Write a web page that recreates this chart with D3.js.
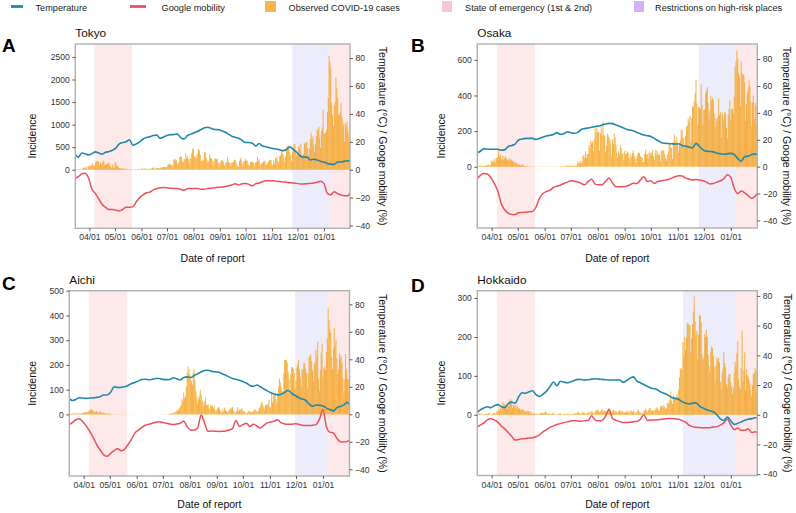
<!DOCTYPE html>
<html><head><meta charset="utf-8">
<script src="https://cdn.jsdelivr.net/npm/d3@7"></script>
<style>
body{margin:0;background:#fff}
svg{display:block}
text{font-family:"Liberation Sans",Arial,Helvetica,sans-serif}
</style>
</head><body>
<svg id="chart" width="796" height="513"></svg>
<script>
// ---------- DATA ----------
const regions = ["Tokyo","Osaka","Aichi","Hokkaido"];
const panelLetters = ["A","B","C","D"];
const firstDay = "2020-03-16"; // daily cases start here, one value per day to 2021-01-31
const monthTickDates = ["2020-04-01","2020-05-01","2020-06-01","2020-07-01","2020-08-01","2020-09-01","2020-10-01","2020-11-01","2020-12-01","2021-01-01"];
const monthTickLabels = ["04/01","05/01","06/01","07/01","08/01","09/01","10/01","11/01","12/01","01/01"];
const emergency1 = ["2020-04-07","2020-05-21"];
const emergency2Start = "2021-01-07";
const restrictStart = ["2020-11-25","2020-11-25","2020-11-30","2020-11-07"];
const leftTicks = [[0,500,1000,1500,2000,2500],[0,200,400,600],[0,100,200,300,400,500],[0,100,200,300]];
const rightTicks = [-40,-20,0,20,40,60,80];

const tokyoCases = [2,5,9,2,11,7,3,16,17,41,47,40,63,68,13,78,
66,97,89,116,143,83,79,144,178,189,197,166,91,161,127,149,201,181,107,102,123,132,134,161,103,72,39,112,47,46,
165,160,91,87,58,38,23,39,36,22,15,28,10,30,9,14,5,10,5,5,11,3,2,14,8,10,11,15,22,14,5,
13,34,12,28,20,26,14,13,12,18,22,25,24,47,48,27,16,41,35,39,35,29,31,55,48,54,57,60,58,54,
67,107,124,131,111,102,106,75,224,243,206,206,119,143,165,286,293,290,188,168,237,238,366,260,295,239,131,266,250,367,463,
472,292,258,309,263,360,462,429,331,197,188,222,206,389,385,260,161,207,186,339,258,256,212,95,182,236,250,226,247,148,100,
170,141,210,211,181,116,77,170,149,276,187,146,146,80,163,163,173,220,218,162,98,88,59,195,270,218,144,78,191,194,
235,196,207,143,78,100,178,172,187,150,145,77,166,177,284,184,235,132,78,139,150,185,186,203,124,102,158,171,221,221,215,
116,87,209,122,269,242,294,189,157,293,317,393,374,352,255,180,298,493,534,522,539,391,314,186,401,481,570,561,418,311,
372,500,533,449,584,327,299,352,572,602,595,621,480,305,460,678,822,664,736,556,392,563,748,888,884,949,708,481,856,944,1337,
783,814,816,884,1278,1591,2520,2392,2268,1494,1219,970,1433,1502,2044,1809,1592,1204,1240,1274,1471,1175,1070,986,618,1026,973,1064,868,769,633];

const osakaCases = [2,5,3,6,7,4,5,8,4,7,9,10,14,4,11,10,
34,28,28,41,24,47,48,56,92,55,70,43,40,60,38,50,60,44,40,35,49,35,42,38,31,29,17,30,21,17,
17,13,11,8,6,13,12,7,3,2,5,3,2,2,1,2,0,1,2,1,1,0,1,0,1,0,1,0,1,2,0,
1,0,1,0,2,1,0,0,1,0,1,2,0,1,3,1,0,2,1,3,4,0,2,4,3,5,6,4,7,5,
3,6,5,5,8,4,4,10,30,18,20,32,18,30,61,66,49,86,51,72,72,121,104,149,132,141,85,155,221,190,216,
195,194,88,188,225,175,255,179,172,80,117,187,177,165,148,125,58,154,129,187,165,123,78,51,87,70,121,104,67,76,39,
89,73,73,86,78,51,36,74,57,77,90,63,45,24,53,74,82,76,61,54,50,28,26,70,95,70,70,46,78,85,
66,77,93,59,39,76,95,68,85,66,69,31,88,93,92,89,70,49,34,66,82,128,128,108,104,43,139,180,151,138,167,
130,79,127,149,207,206,161,164,114,174,226,231,269,254,286,142,273,338,338,370,415,490,356,233,335,331,323,463,346,236,
318,322,410,427,447,359,271,318,396,371,386,373,299,221,271,254,278,383,290,308,166,301,289,260,307,299,220,160,290,323,373,
262,323,326,301,394,560,592,654,606,525,508,340,592,524,519,516,475,258,352,412,439,485,453,362,226,360,400,269,358,343,234];

const aichiCases = [1,3,2,4,5,2,3,5,3,6,2,4,5,3,4,6,
8,6,10,9,7,12,15,10,18,20,16,14,12,9,11,14,8,6,10,12,9,8,7,6,5,4,3,2,4,2,
3,2,1,2,1,0,1,0,1,0,2,0,1,0,0,1,0,0,1,0,0,0,1,0,0,1,0,0,0,1,0,
0,0,1,0,0,0,0,0,1,0,0,0,0,0,0,0,1,0,0,0,0,0,0,1,0,0,0,0,1,0,
1,0,0,2,0,1,0,3,2,4,5,3,6,8,7,10,16,14,19,24,33,37,62,55,89,64,74,112,167,193,181,
163,141,133,120,170,181,136,93,72,45,63,74,101,82,58,51,35,52,69,39,37,43,26,18,40,32,36,24,33,20,10,
18,24,30,25,17,9,10,23,11,28,19,13,11,8,19,18,27,22,30,18,8,6,10,15,29,12,21,17,23,24,
12,14,13,3,4,7,12,15,14,10,8,11,13,19,21,15,13,9,16,26,33,45,51,39,29,20,40,37,39,44,58,
32,28,84,48,73,82,88,61,44,86,113,145,129,110,95,76,167,219,221,220,210,172,140,86,164,190,192,183,167,101,
135,190,203,221,182,152,116,181,180,207,208,185,168,104,164,231,236,242,214,179,133,205,213,260,238,295,146,94,181,249,285,
149,185,194,178,252,307,431,380,345,329,232,183,267,349,280,302,225,163,183,246,225,237,207,147,86,142,244,184,145,141,91];

const hokkaidoCases = [3,1,4,2,1,3,2,1,1,2,3,2,5,4,1,2,
2,2,5,5,2,4,9,9,14,10,18,14,21,32,26,27,23,15,19,22,26,36,40,31,18,27,23,19,26,18,
22,14,17,13,14,11,15,12,7,9,6,10,10,8,6,6,4,2,3,5,1,2,3,3,1,2,5,4,6,5,3,
6,8,5,3,2,4,3,1,2,3,5,2,1,0,2,1,3,2,4,1,0,2,1,3,2,1,4,2,3,1,
2,0,3,1,4,2,5,3,6,8,4,2,3,5,7,6,4,3,2,5,6,8,4,6,9,7,4,3,8,10,12,
14,9,6,8,12,15,10,7,11,9,5,10,14,18,12,8,6,9,13,11,7,10,8,5,9,12,10,6,11,8,6,
5,7,9,6,10,8,4,12,9,7,11,6,5,3,8,10,14,7,5,6,4,3,9,12,15,10,6,12,16,18,
14,10,12,8,11,13,16,19,15,12,9,20,24,22,18,25,20,14,17,30,28,34,40,60,37,28,50,43,47,44,54,
46,64,96,119,119,115,187,153,200,166,197,236,235,230,230,160,197,233,266,304,241,207,216,141,206,257,254,237,155,141,
146,207,200,218,200,154,126,111,163,175,172,152,124,83,127,147,139,146,135,85,67,108,119,161,133,122,79,71,97,104,105,
84,73,53,68,107,137,125,158,190,92,73,66,120,215,87,116,160,63,116,102,98,90,80,63,47,76,105,107,120,113,59];

// day offsets (from 2020-03-16) at which temperature / mobility were read
const lineDays = [0,3,7,11,15,19,23,27,31,35,39,43,47,51,55,59,63,67,71,75,79,83,87,91,95,99,103,107,111,115,119,123,127,131,135,139,143,147,151,155,159,163,167,171,175,179,183,187,191,195,199,203,207,211,215,219,223,227,231,235,239,243,247,251,255,259,263,267,271,275,279,283,287,291,295,299,303,307,311,315,319,321];

const tokyoTemp = [10.5,9,12,11.5,10.5,11.5,12.8,12,11.2,12.5,
13,14,15.5,18.5,19.5,20,21.5,17.5,18.5,20,
22,23,23.7,24.5,24.8,22.5,23.5,24.5,25,25.2,
25.6,23,22,24.5,25.5,26.5,27.5,28.8,30,30.4,
29.5,28.8,28.6,28,27,25.5,24,23.2,22.5,21,
19.5,19.5,19,17,18.8,17,16.5,15.8,15.2,14.8,
14.3,13.6,14.5,16.5,14.5,12.5,10,9,9,7,
7.5,7,6,5.5,4.5,4,3.8,5.5,5.5,6,
6.5,6];
const tokyoMob = [-6,-5,-3,-2.5,-6,-14,-17,-21,-25,-27,
-28.5,-28.5,-29,-29.5,-28.5,-27,-27,-26.5,-23,-20,
-18,-16.5,-16,-14.5,-13.5,-13,-12.7,-13,-13.3,-13.5,
-13.5,-14,-14.8,-13.5,-13.5,-13.5,-13.5,-14,-14,-13.5,
-13.3,-13,-12.5,-12.5,-12,-11.5,-11,-10,-11,-10,
-9.8,-10.5,-11.7,-10,-9.5,-8.6,-8,-8,-8,-8.3,
-8.5,-8.8,-9,-9.3,-9.5,-9.8,-10.2,-10.2,-10,-9.8,
-9.5,-9,-8.2,-10,-17,-18,-15.8,-17.2,-18.2,-18.6,
-18.6,-17];
const osakaTemp = [10.4,11.5,13.2,13,12.9,12.9,12.9,12.3,12.5,15,
15.8,16.8,19.8,20.5,21,21,21,20.3,21.2,22,
22.8,23.3,24,25.3,24,24.5,26,25.2,24.8,25.5,
27.6,28.3,28.8,29.3,29.8,30.2,31,31.7,32.2,32,
31,30,29,27.8,27.2,26.6,25.5,24.5,23.5,23,
22.5,21,19.5,18,17.4,17.2,17,16.8,17,15.8,
15.3,14.5,14,17.3,15,12.5,11.5,11.3,11,10,
9.6,9.2,9.5,9.9,9,6,4,7.5,7.8,9,
9.5,8.8];
const osakaMob = [-8.7,-6.5,-5,-5.5,-8,-12.4,-18,-27.5,-32,-34.5,
-35.5,-35.5,-34.2,-34,-33.8,-33.6,-33.4,-30,-23.5,-20,
-18.5,-17.5,-15.5,-14.5,-13.8,-12.5,-11.5,-10.5,-10.8,-11.4,
-12.5,-13.5,-11,-9.4,-13,-13.5,-13.6,-11,-8.5,-12,
-15,-15,-14.8,-14.5,-13.5,-12.4,-12.6,-10,-7.5,-11,
-10.5,-12.5,-11,-10.5,-10,-9.5,-8.5,-7.5,-6.8,-7,
-8.5,-9.2,-10,-9.5,-10,-10.5,-11.5,-12.8,-12.5,-11.5,
-10.5,-9,-6,-8,-16,-20,-18,-19.5,-21.5,-23.5,
-22,-20];
const aichiTemp = [11.2,10,10.8,12,11.8,11.6,11.8,11.9,12.3,12.8,
14,14,16,20,19.5,19.6,20,21,22.4,23.2,
24.3,25.3,25.5,25.1,25.5,26,26,25.4,25.2,25.3,
26.6,25.8,25,26.8,27.2,26.8,28.2,29.5,30.7,31.8,
32,31.3,30.9,30.5,29.5,28.5,27.2,26,25.5,24.8,
23.8,22.7,21,20.4,21.3,20,18.5,17,15.7,14.8,
14.1,14.4,16,17.3,15.3,13.7,12.1,11.2,10.2,7.5,
5.8,6.7,6.6,6,4.5,3.4,2.5,4.8,5.7,6.8,
8.8,7.3];
const aichiMob = [-7.3,-6,-4,-3.2,-5.5,-8.5,-12.5,-17,-22,-26,
-29.5,-30.5,-28.4,-26.5,-25,-26.5,-25.5,-22,-18,-13.5,
-11.5,-9.5,-8,-7.3,-6.5,-5.8,-5.5,-6,-6.5,-7,
-7.5,-7,-6.5,-5,-9,-11.4,-11.4,-10,-0.5,-6.5,
-12.4,-12.2,-12.3,-12.5,-12.4,-12.1,-11.5,-10.5,-4.5,-8.8,
-7.5,-6.5,-8.8,-7.3,-8.5,-10,-8,-6.3,-5.6,-5,
-4,-6.3,-7,-7.2,-7.2,-6.8,-7.3,-8,-8.2,-8.2,
-8,-7.5,-3.5,3.5,-9,-13,-13.5,-17.5,-20,-20.2,
-19.7,-18.7];
const hokkaidoTemp = [2,3.3,4.5,5.4,4.8,6,6.8,5.5,4.8,7.5,
8.5,7.8,12,14.8,14.5,15.5,16.2,13.5,12.3,13.8,
15.8,18.8,22,19.5,22.5,22,21.5,22.2,23,23.8,
23.7,23.3,23.6,24,24.2,24,23.8,23.6,23.4,23.4,
23.4,23.4,21.8,23,24.5,25.5,22.7,21.5,20.3,19.1,
18,17.5,16.7,15.2,14.3,13.2,11.6,11,10.4,8.8,
7.8,7.2,7.8,8,5.8,4.5,3.4,2.7,2,0,
-2.8,-3.9,-1.5,-4,-6.5,-5.8,-4.8,-3.7,-3,-2.6,
-2,-1.8];
const hokkaidoMob = [-8,-7,-5.5,-3.5,-2.7,-3.5,-5,-7.5,-9.5,-12,
-14.5,-17,-16.6,-16.2,-16,-15.7,-15.5,-14.8,-13.5,-11.5,
-10,-8.5,-7.5,-6.6,-6,-5.2,-4.8,-4.2,-4,-4.2,
-4.3,-4,-3.8,-0.7,-3.6,-4,-3.8,-1,3.5,-2.5,
-3.8,-4.5,-5.2,-5.2,-5,-4.7,-4.5,-3,0,-3.8,
-3.6,-3.5,-3.3,-3,-2.8,-2.6,-2.6,-2.8,-3,-4,
-5,-7,-8,-8.4,-8.6,-8.8,-8.8,-8.7,-8.3,-8,
-7,-5.5,-2.8,-7,-10,-9,-10.5,-10.5,-9.5,-12,
-11.5,-12];

const legendLabels = ["Temperature","Google mobility","Observed COVID-19 cases","State of emergency (1st & 2nd)","Restrictions on high-risk places"];

// ---------- STYLE / LAYOUT ----------
const C = {temp:"#1f88ab", mob:"#ee5059", bar:"#f5a21f", em:"#fde9e9", res:"#ececfb",
  emLeg:"#f9c5d2", resLeg:"#d3b2f6", frame:"#b0b0b0", tick:"#333", lab:"#333"};
const layout = [
  {x0:75.3, x1:350,   y0:44,    y1:228.3, lDom:[-1299,2787], rDom:[-42.0,90.1], letterX:2,   letterY:52,  titleY:37,    xTitleY:262, yTitleX:32,  rTitleX:383},
  {x0:477.3,x1:757.3, y0:44,    y1:228,   lDom:[-344,689],   rDom:[-45.6,91.2], letterX:411, letterY:52,  titleY:37,    xTitleY:262, yTitleX:441, rTitleX:787},
  {x0:69.3, x1:349.5, y0:290.7, y1:476,   lDom:[-249,500],   rDom:[-44.9,89.9], letterX:2,   letterY:290, titleY:283.5, xTitleY:508, yTitleX:32,  rTitleX:383},
  {x0:477.3,x1:757.3, y0:290.7, y1:475.5, lDom:[-156,318.8], rDom:[-40.9,83.5], letterX:411, letterY:292, titleY:283.5, xTitleY:508, yTitleX:441, rTitleX:788}
];
const casesAll = [tokyoCases, osakaCases, aichiCases, hokkaidoCases];
const tempAll = [tokyoTemp, osakaTemp, aichiTemp, hokkaidoTemp];
const mobAll = [tokyoMob, osakaMob, aichiMob, hokkaidoMob];

const parse = d3.timeParse("%Y-%m-%d");
const day0 = parse(firstDay);
const dayDate = i => d3.timeDay.offset(day0, i);
const xDomain = [d3.timeHour.offset(day0,-12), d3.timeHour.offset(dayDate(321),12)];

const svg = d3.select("#chart");
const FONT = "'Liberation Sans',Arial,sans-serif";

// ---------- LEGEND ----------
const lg = svg.append("g");
lg.append("line").attr("x1",11).attr("x2",23).attr("y1",6.5).attr("y2",6.5).attr("stroke",C.temp).attr("stroke-width",2.8);
lg.append("line").attr("x1",130).attr("x2",146).attr("y1",6.5).attr("y2",6.5).attr("stroke",C.mob).attr("stroke-width",2.8);
lg.append("rect").attr("x",265).attr("y",1).attr("width",11).attr("height",11).attr("fill",C.bar).attr("fill-opacity",0.8);
lg.append("rect").attr("x",442).attr("y",1).attr("width",10).attr("height",11).attr("fill",C.emLeg);
lg.append("rect").attr("x",634).attr("y",1).attr("width",10).attr("height",11).attr("fill",C.resLeg);
const legX = [35.5,161.5,288.5,465,655];
legendLabels.forEach((t,i)=>{
  lg.append("text").attr("x",legX[i]).attr("y",10.5).attr("font-size",9.2).attr("fill","#222").text(t);
});

// ---------- PANELS ----------
regions.forEach((name, p) => {
  const L = layout[p];
  const g = svg.append("g");
  const x = d3.scaleTime().domain(xDomain).range([L.x0, L.x1]);
  const yL = d3.scaleLinear().domain(L.lDom).range([L.y1, L.y0]);
  const yR = d3.scaleLinear().domain(L.rDom).range([L.y1, L.y0]);
  const clipId = "clip"+p;
  svg.append("clipPath").attr("id",clipId).append("rect")
    .attr("x",L.x0).attr("y",L.y0).attr("width",L.x1-L.x0).attr("height",L.y1-L.y0);
  const inner = g.append("g").attr("clip-path",`url(#${clipId})`);

  // shaded periods
  const e1a = parse(emergency1[0]), e1b = parse(emergency1[1]);
  const e2a = parse(emergency2Start), rs = parse(restrictStart[p]);
  inner.append("rect").attr("x",x(e1a)).attr("width",x(e1b)-x(e1a)).attr("y",L.y0).attr("height",L.y1-L.y0).attr("fill",C.em);
  inner.append("rect").attr("x",x(rs)).attr("width",x(e2a)-x(rs)).attr("y",L.y0).attr("height",L.y1-L.y0).attr("fill",C.res);
  inner.append("rect").attr("x",x(e2a)).attr("width",L.x1-x(e2a)+2).attr("y",L.y0).attr("height",L.y1-L.y0).attr("fill",C.em);

  // bars
  const cases = casesAll[p];
  const bw = x(dayDate(1)) - x(dayDate(0));
  inner.append("g").selectAll("rect").data(cases).join("rect")
    .attr("x",(d,i)=>x(dayDate(i)) - bw*0.6)
    .attr("width",bw*1.2)
    .attr("y",d=>yL(d))
    .attr("height",d=>Math.max(0,yL(0)-yL(d)))
    .attr("fill",C.bar).attr("fill-opacity",0.78);

  // lines
  const line = d3.line().x((d,i)=>x(dayDate(lineDays[i]))).y(d=>yR(d)).curve(d3.curveMonotoneX);
  inner.append("path").datum(mobAll[p]).attr("d",line).attr("fill","none").attr("stroke",C.mob).attr("stroke-width",1.5);
  inner.append("path").datum(tempAll[p]).attr("d",line).attr("fill","none").attr("stroke",C.temp).attr("stroke-width",1.6);

  // frame
  g.append("rect").attr("x",L.x0).attr("y",L.y0).attr("width",L.x1-L.x0).attr("height",L.y1-L.y0)
    .attr("fill","none").attr("stroke",C.frame).attr("stroke-width",1.4);

  // x axis
  const xa = g.append("g").attr("transform",`translate(0,${L.y1})`)
    .call(d3.axisBottom(x).tickValues(monthTickDates.map(parse)).tickSize(3).tickPadding(3)
      .tickFormat((d,i)=>monthTickLabels[i]));
  // left axis
  const la = g.append("g").attr("transform",`translate(${L.x0},0)`)
    .call(d3.axisLeft(yL).tickValues(leftTicks[p]).tickSize(3).tickPadding(2.5).tickFormat(d3.format("d")));
  // right axis
  const ra = g.append("g").attr("transform",`translate(${L.x1},0)`)
    .call(d3.axisRight(yR).tickValues(rightTicks).tickSize(3).tickPadding(2.5).tickFormat(d3.format("d")));
  [xa,la,ra].forEach(a=>{
    a.select(".domain").remove();
    a.selectAll(".tick line").attr("stroke",C.tick).attr("stroke-width",0.8);
    a.selectAll(".tick text").attr("font-size",8.6).attr("fill",C.lab).attr("font-family",FONT);
  });

  // titles
  g.append("text").attr("x",L.letterX).attr("y",L.letterY).attr("font-size",19).attr("font-weight","bold").attr("fill","#000").text(panelLetters[p]);
  g.append("text").attr("x",L.x0).attr("y",L.titleY).attr("font-size",11.8).attr("fill","#111").text(name);
  g.append("text").attr("x",(L.x0+L.x1)/2).attr("y",L.xTitleY).attr("text-anchor","middle").attr("font-size",10.5).attr("fill","#111").text("Date of report");
  g.append("text").attr("transform",`translate(${L.yTitleX},${(L.y0+L.y1)/2}) rotate(-90)`)
    .attr("text-anchor","middle").attr("dominant-baseline","central").attr("font-size",10.5).attr("fill","#111").text("Incidence");
  g.append("text").attr("transform",`translate(${L.rTitleX},${(L.y0+L.y1)/2}) rotate(90)`)
    .attr("text-anchor","middle").attr("dominant-baseline","central").attr("font-size",10.5).attr("fill","#111")
    .text("Temperature (°C) / Googe mobility (%)");
});
</script>
</body></html>
